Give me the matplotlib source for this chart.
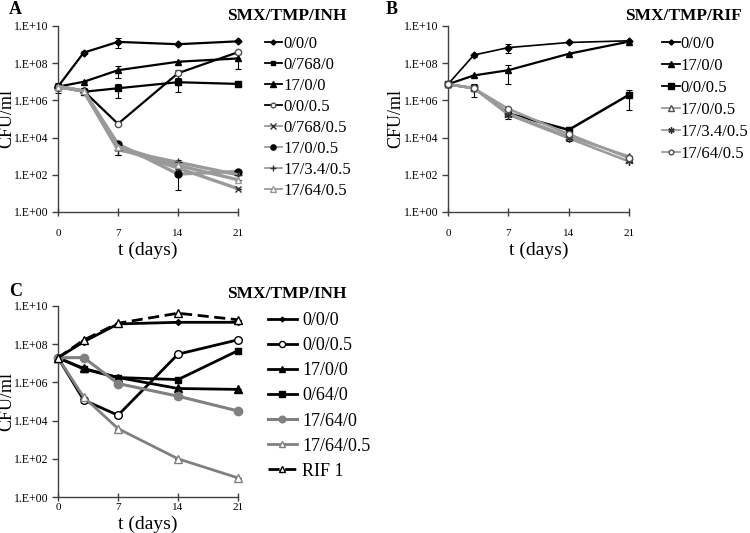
import matplotlib
matplotlib.use("Agg")
import matplotlib.pyplot as plt
import numpy as np

plt.rcParams['font.family'] = ['Liberation Serif', 'DejaVu Serif']

days = [0, 3, 7, 14, 21]
xticks = [0, 7, 14, 21]
yticks = [1e0, 1e2, 1e4, 1e6, 1e8, 1e10]
ytick_labels = ['1.E+00', '1.E+02', '1.E+04', '1.E+06', '1.E+08', '1.E+10']

# Panel A: SMX/TMP/INH
A_labels = ['0/0/0', '0/768/0', '17/0/0', '0/0/0.5', '0/768/0.5', '17/0/0.5', '17/3.4/0.5', '17/64/0.5']
A_000 = [5.5e6, 3.7e8, 1.4e9, 1.05e9, 1.5e9]
A_07680 = [5.5e6, 2.9e6, 4.5e6, 9.5e6, 7.7e6]
A_1700 = [5.5e6, 1.0e7, 4.2e7, 1.2e8, 1.8e8]
A_0005 = [5.5e6, 3.2e6, 5.5e4, 2.9e7, 3.9e8]
A_076805 = [5.5e6, 3.2e6, 2.7e3, 2.3e2, 1.8e1]
A_17005 = [5.5e6, 3.2e6, 4.5e3, 1.1e2, 1.5e2]
A_173405 = [5.5e6, 3.2e6, 2.2e3, 4.7e2, 1.0e2]
A_176405 = [5.5e6, 3.2e6, 3.3e3, 3.2e2, 5.4e1]
A_sd_000 = [0, 6e7, 7.7e8, 1e8, 0]
A_sd_07680 = [3e6, 0, 3.2e6, 6.5e6, 0]
A_sd_1700 = [0, 0, 2.6e7, 0, 1.3e8]
A_sd_0005 = [0, 0, 0, 1.4e7, 0]
A_sd_076805 = [0, 0, 1.5e3, 0, 0]
A_sd_17005 = [0, 0, 0, 95, 0]
A_sd_173405 = [0, 0, 1.0e3, 1.5e2, 0]
A_sd_176405 = [0, 0, 0, 0, 0]

# Panel B: SMX/TMP/RIF
B_labels = ['0/0/0', '17/0/0', '0/0/0.5', '17/0/0.5', '17/3.4/0.5', '17/64/0.5']
B_000 = [7.4e6, 2.75e8, 6.9e8, 1.3e9, 1.6e9]
B_1700 = [7.4e6, 2.2e7, 4.2e7, 3.2e8, 1.45e9]
B_0005 = [7.4e6, 4.5e6, 2.0e5, 2.6e4, 2.0e6]
B_17005 = [7.4e6, 4.5e6, 2.0e5, 1.15e4, 9.8e2]
B_173405 = [7.4e6, 4.5e6, 1.7e5, 9.3e3, 5.2e2]
B_176405 = [7.4e6, 4.5e6, 3.5e5, 1.55e4, 7.9e2]
B_sd_000 = [0, 5e7, 3.5e8, 0, 0]
B_sd_1700 = [0, 0, 3.4e7, 0, 0]
B_sd_0005 = [2e6, 2.9e6, 1e5, 1e4, 1.7e6]
B_sd_17005 = [0, 0, 0, 5e3, 0]
B_sd_173405 = [0, 0, 0, 0, 0]
B_sd_176405 = [0, 0, 0, 0, 0]

# Panel C: SMX/TMP/INH
C_labels = ['0/0/0', '0/0/0.5', '17/0/0', '0/64/0', '17/64/0', '17/64/0.5', 'RIF 1']
C_000 = [1.95e7, 1.35e8, 1.15e9, 1.4e9, 1.4e9]
C_0005 = [1.95e7, 1.2e5, 1.9e4, 3.0e7, 1.7e8]
C_1700 = [1.95e7, 5.4e6, 1.8e6, 4.8e5, 4.3e5]
C_0640 = [1.95e7, 5.0e6, 1.8e6, 1.4e6, 4.6e7]
C_17640 = [1.95e7, 2.0e7, 8.7e5, 1.9e5, 3.2e4]
C_176405 = [1.95e7, 1.7e5, 3.8e3, 1.0e2, 1.0e1]
C_RIF = [1.95e7, 1.65e8, 1.25e9, 4.2e9, 1.9e9]

BLACK = '#000000'
GRAYA = '#9a9a9a'
GRAYC = '#808080'

fig = plt.figure(figsize=(7.5, 5.33), dpi=100)
W, H = 750, 533

def make_ax(l, t, r, b):
    return fig.add_axes([l / W, 1 - b / H, (r - l) / W, (b - t) / H])

def style(ax, title, letter, lx, ly, tx, ty, ylab_x, xlab_y, xtick_pad):
    ax.set_yscale('log')
    ax.set_ylim(1e0, 1e10)
    ax.set_xlim(0, 21)
    ax.set_yticks(yticks)
    ax.set_yticklabels(ytick_labels, fontsize=8.5)
    ax.minorticks_off()
    ax.set_xticks(xticks)
    ax.set_xticklabels([str(v) for v in xticks], fontsize=8)
    ax.spines['top'].set_visible(False)
    ax.spines['right'].set_visible(False)
    for s in ['left', 'bottom']:
        ax.spines[s].set_linewidth(1.0)
        ax.spines[s].set_color('#404040')
    ax.tick_params(axis='y', direction='out', length=4, width=1.0, color='#404040', pad=3)
    ax.tick_params(axis='x', direction='inout', length=6, width=1.0, color='#404040', pad=xtick_pad)
    ax.set_ylabel('CFU/ml', fontsize=13, va='center', ha='center')
    ax.yaxis.set_label_coords(ylab_x, 0.5)
    ax.set_xlabel('t (days)', fontsize=14, va='center', ha='center')
    ax.xaxis.set_label_coords(0.5, xlab_y)
    fig.text(tx / W, 1 - ty / H, title, fontsize=12.5, fontweight='bold', ha='center', va='center')
    fig.text(lx / W, 1 - ly / H, letter, fontsize=13, fontweight='bold', ha='left', va='center')

def series(ax, y, sd, color, marker, mfc, mec, ms, lw, label, ls='-', mew=1.0):
    yv = np.array(y, float)
    s = np.array(sd, float)
    lo = np.minimum(s, yv * 0.95)
    eb = ax.errorbar(days, y, yerr=[lo, s], fmt='none', ecolor='black', elinewidth=0.8,
                     capsize=2.5, capthick=0.8, zorder=2)
    for art in eb.lines[1] + eb.lines[2]:
        art.set_clip_on(False)
    ln = ax.plot(days, y, color=color, marker=marker, mfc=mfc, mec=mec, ms=ms, lw=lw,
                 ls=ls, label=label, mew=mew, zorder=3)[0]
    ln.set_clip_on(False)
    return ln

def thin_handles(leg, lw):
    for h in leg.legend_handles:
        h.set_linewidth(lw)

# ---------- Panel A ----------
axA = make_ax(58, 26, 238, 212)
hA = []
hA.append(series(axA, A_000, A_sd_000, BLACK, 'D', BLACK, BLACK, 3.5, 1.6, A_labels[0]))
hA.append(series(axA, A_07680, A_sd_07680, BLACK, 's', BLACK, BLACK, 4.5, 1.6, A_labels[1]))
hA.append(series(axA, A_1700, A_sd_1700, BLACK, '^', BLACK, BLACK, 5, 1.6, A_labels[2]))
hA.append(series(axA, A_0005, A_sd_0005, BLACK, 'o', 'white', '#505050', 4.5, 1.6, A_labels[3]))
hA.append(series(axA, A_076805, A_sd_076805, GRAYA, 'x', 'none', '#303030', 5, 2.4, A_labels[4]))
hA.append(series(axA, A_17005, A_sd_17005, GRAYA, 'o', BLACK, BLACK, 5, 2.4, A_labels[5]))
hA.append(series(axA, A_173405, A_sd_173405, GRAYA, '+', 'none', '#303030', 6, 2.4, A_labels[6]))
hA.append(series(axA, A_176405, A_sd_176405, GRAYA, '^', 'white', GRAYA, 5, 2.4, A_labels[7]))
style(axA, 'SMX/TMP/INH', 'A', 9, 9, 287, 16, (7 - 58) / 180, -(250 - 212) / 186, 9)
legA = fig.legend(handles=hA, loc='upper left', bbox_to_anchor=(265 / W, 1 - 36 / H), frameon=False,
                  fontsize=12, handlelength=1.0, handletextpad=0.12, labelspacing=0.3, borderpad=0,
                  borderaxespad=0, markerscale=0.75)
thin_handles(legA, 1.3)

# ---------- Panel B ----------
axB = make_ax(448, 26, 629, 212)
hB = []
hB.append(series(axB, B_000, B_sd_000, BLACK, 'D', BLACK, BLACK, 3.5, 1.2, B_labels[0]))
hB.append(series(axB, B_1700, B_sd_1700, BLACK, '^', BLACK, BLACK, 5, 1.6, B_labels[1]))
hB.append(series(axB, B_0005, B_sd_0005, BLACK, 's', BLACK, BLACK, 5, 1.8, B_labels[2]))
hB.append(series(axB, B_17005, B_sd_17005, GRAYA, '^', 'white', '#505050', 5, 1.8, B_labels[3]))
hB.append(series(axB, B_173405, B_sd_173405, GRAYA, (6, 2, 0), '#303030', '#303030', 6, 1.8, B_labels[4]))
hB.append(series(axB, B_176405, B_sd_176405, GRAYA, 'o', 'white', '#505050', 4.5, 1.8, B_labels[5]))
style(axB, 'SMX/TMP/RIF', 'B', 386, 9, 683, 16, (396 - 448) / 181, -(250 - 212) / 186, 9)
legB = fig.legend(handles=hB, loc='upper left', bbox_to_anchor=(662 / W, 1 - 36 / H), frameon=False,
                  fontsize=12, handlelength=1.05, handletextpad=0.08, labelspacing=0.36, borderpad=0,
                  borderaxespad=0, markerscale=0.75)
thin_handles(legB, 1.3)

# ---------- Panel C ----------
axC = make_ax(58, 306, 238, 497)
hC = []
hC.append(series(axC, C_000, [0] * 5, BLACK, 'D', BLACK, BLACK, 3, 2.0, C_labels[0]))
hC.append(series(axC, C_0005, [0] * 5, BLACK, 'o', 'white', BLACK, 5.5, 2.0, C_labels[1]))
hC.append(series(axC, C_1700, [0] * 5, BLACK, '^', BLACK, BLACK, 6, 2.0, C_labels[2]))
hC.append(series(axC, C_0640, [0] * 5, BLACK, 's', BLACK, BLACK, 5, 2.0, C_labels[3]))
hC.append(series(axC, C_17640, [0] * 5, GRAYC, 'o', GRAYC, GRAYC, 6, 2.2, C_labels[4]))
hC.append(series(axC, C_176405, [0] * 5, GRAYC, '^', 'white', GRAYC, 6, 2.0, C_labels[5]))
hC.append(series(axC, C_RIF, [0] * 5, BLACK, '^', 'white', BLACK, 6, 2.0, C_labels[6], ls=(0, (4, 2))))
style(axC, 'SMX/TMP/INH', 'C', 9, 292, 287, 294, (7 - 58) / 180, -(524 - 497) / 191, 1.5)
legC = fig.legend(handles=hC, loc='upper left', bbox_to_anchor=(268 / W, 1 - 312 / H), frameon=False,
                  fontsize=13, handlelength=1.6, handletextpad=0.3, labelspacing=0.45, borderpad=0,
                  borderaxespad=0, markerscale=0.8)

fig.savefig('out.png', dpi=100)
